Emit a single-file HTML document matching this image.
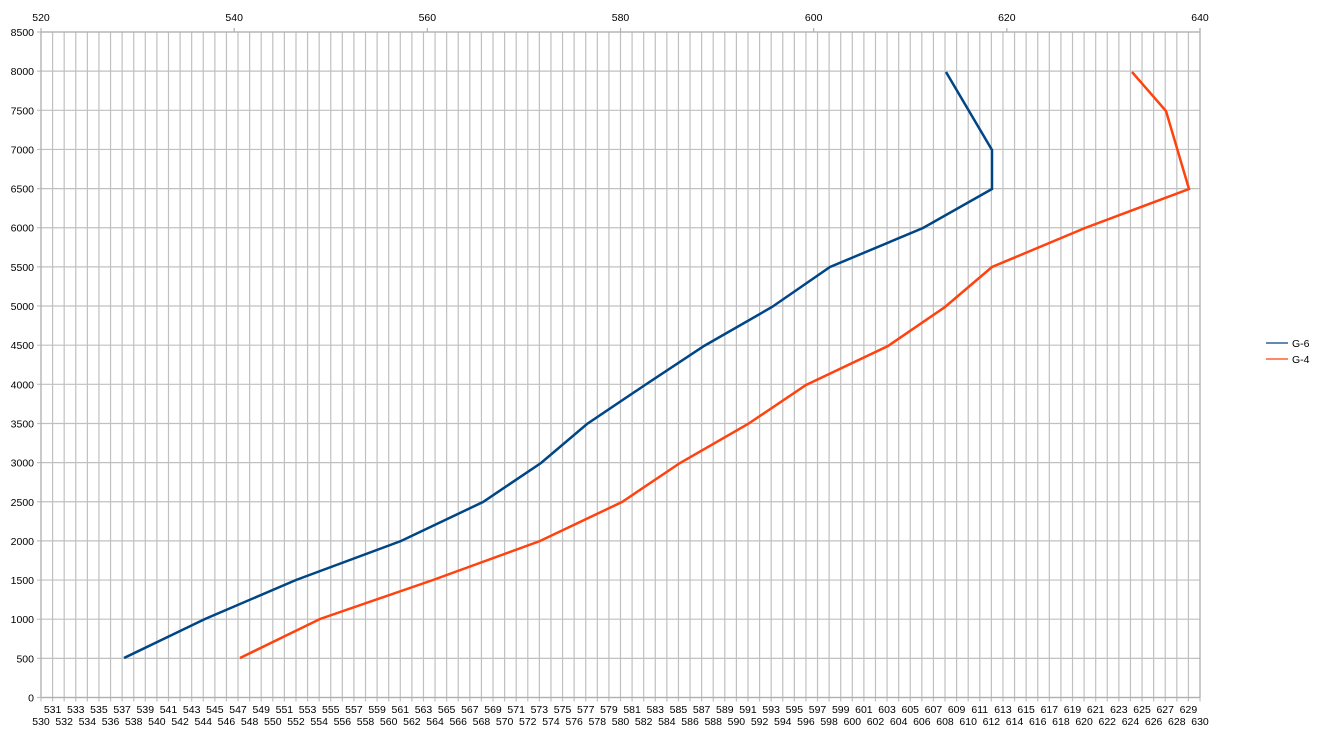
<!DOCTYPE html>
<html><head><meta charset="utf-8"><style>html,body{margin:0;padding:0;background:#fff}svg{display:block}text{font-family:"Liberation Sans",sans-serif;font-size:10.5px;fill:#000}</style></head>
<body>
<svg id="s" width="1317" height="755" xmlns="http://www.w3.org/2000/svg"></svg>
<script>
const s=document.getElementById('s');const NS='http://www.w3.org/2000/svg';
function el(t,a,txt){const e=document.createElementNS(NS,t);for(const k in a)e.setAttribute(k,a[k]);if(txt!==undefined)e.textContent=txt;s.appendChild(e);return e;}
const L=41,R=1200,T=32,B=697.5;
const xs=v=>L+(v-530)*(R-L)/100;
const ys=v=>B-v*(B-T)/8500;
// vertical grid
for(let v=530;v<=630;v++){el('line',{x1:xs(v),x2:xs(v),y1:T,y2:B+4,stroke:'#c0c0c0','stroke-width':1.2});}
for(let v=0;v<=8500;v+=500){el('line',{x1:L-4,x2:R,y1:ys(v),y2:ys(v),stroke:'#c0c0c0','stroke-width':1.2});
 el('text',{x:L-7,y:ys(v)+4,'text-anchor':'end'},String(v));}
el('line',{x1:L,x2:L,y1:T,y2:B,stroke:'#b0b0b0','stroke-width':1.2});
el('line',{x1:R,x2:R,y1:T-4,y2:B,stroke:'#b0b0b0','stroke-width':1.2});
el('line',{x1:L,x2:R,y1:T,y2:T,stroke:'#b0b0b0','stroke-width':1.2});
el('line',{x1:L,x2:R,y1:B,y2:B,stroke:'#b0b0b0','stroke-width':1.2});
for(let v=530;v<=630;v++){el('text',{x:xs(v),y:(v%2?713:725),'text-anchor':'middle'},String(v));}
for(let v=520;v<=640;v+=20){const x=L+(v-520)*(R-L)/120;el('line',{x1:x,x2:x,y1:T-4,y2:T,stroke:'#b0b0b0','stroke-width':1.2});el('text',{x:x,y:21,'text-anchor':'middle'},String(v));}
const g6=[[124,658],[205,619],[296,580],[401,541],[483,502],[541,463],[587,424],[645,385],[704,346],[772,307],[830,267],[923,228],[992,189],[992,150],[946,72]];
const g4=[[240,658],[320,619],[433,580],[540,541],[622,502],[680,463],[748,424],[806,385],[888,346],[945,307],[992,267],[1085,228],[1189,189],[1166,111],[1132,72]];
el('polyline',{points:g6.map(p=>p.join(',')).join(' '),fill:'none',stroke:'#004586','stroke-width':2.5,'stroke-linejoin':'miter'});
el('polyline',{points:g4.map(p=>p.join(',')).join(' '),fill:'none',stroke:'#ff420e','stroke-width':2.5,'stroke-linejoin':'miter'});
el('line',{x1:1266,x2:1288,y1:343,y2:343,stroke:'#004586','stroke-width':1.2});
el('line',{x1:1266,x2:1288,y1:359,y2:359,stroke:'#ff420e','stroke-width':1.2});
el('text',{x:1292,y:347},'G-6');el('text',{x:1292,y:363},'G-4');
</script>
</body></html>
